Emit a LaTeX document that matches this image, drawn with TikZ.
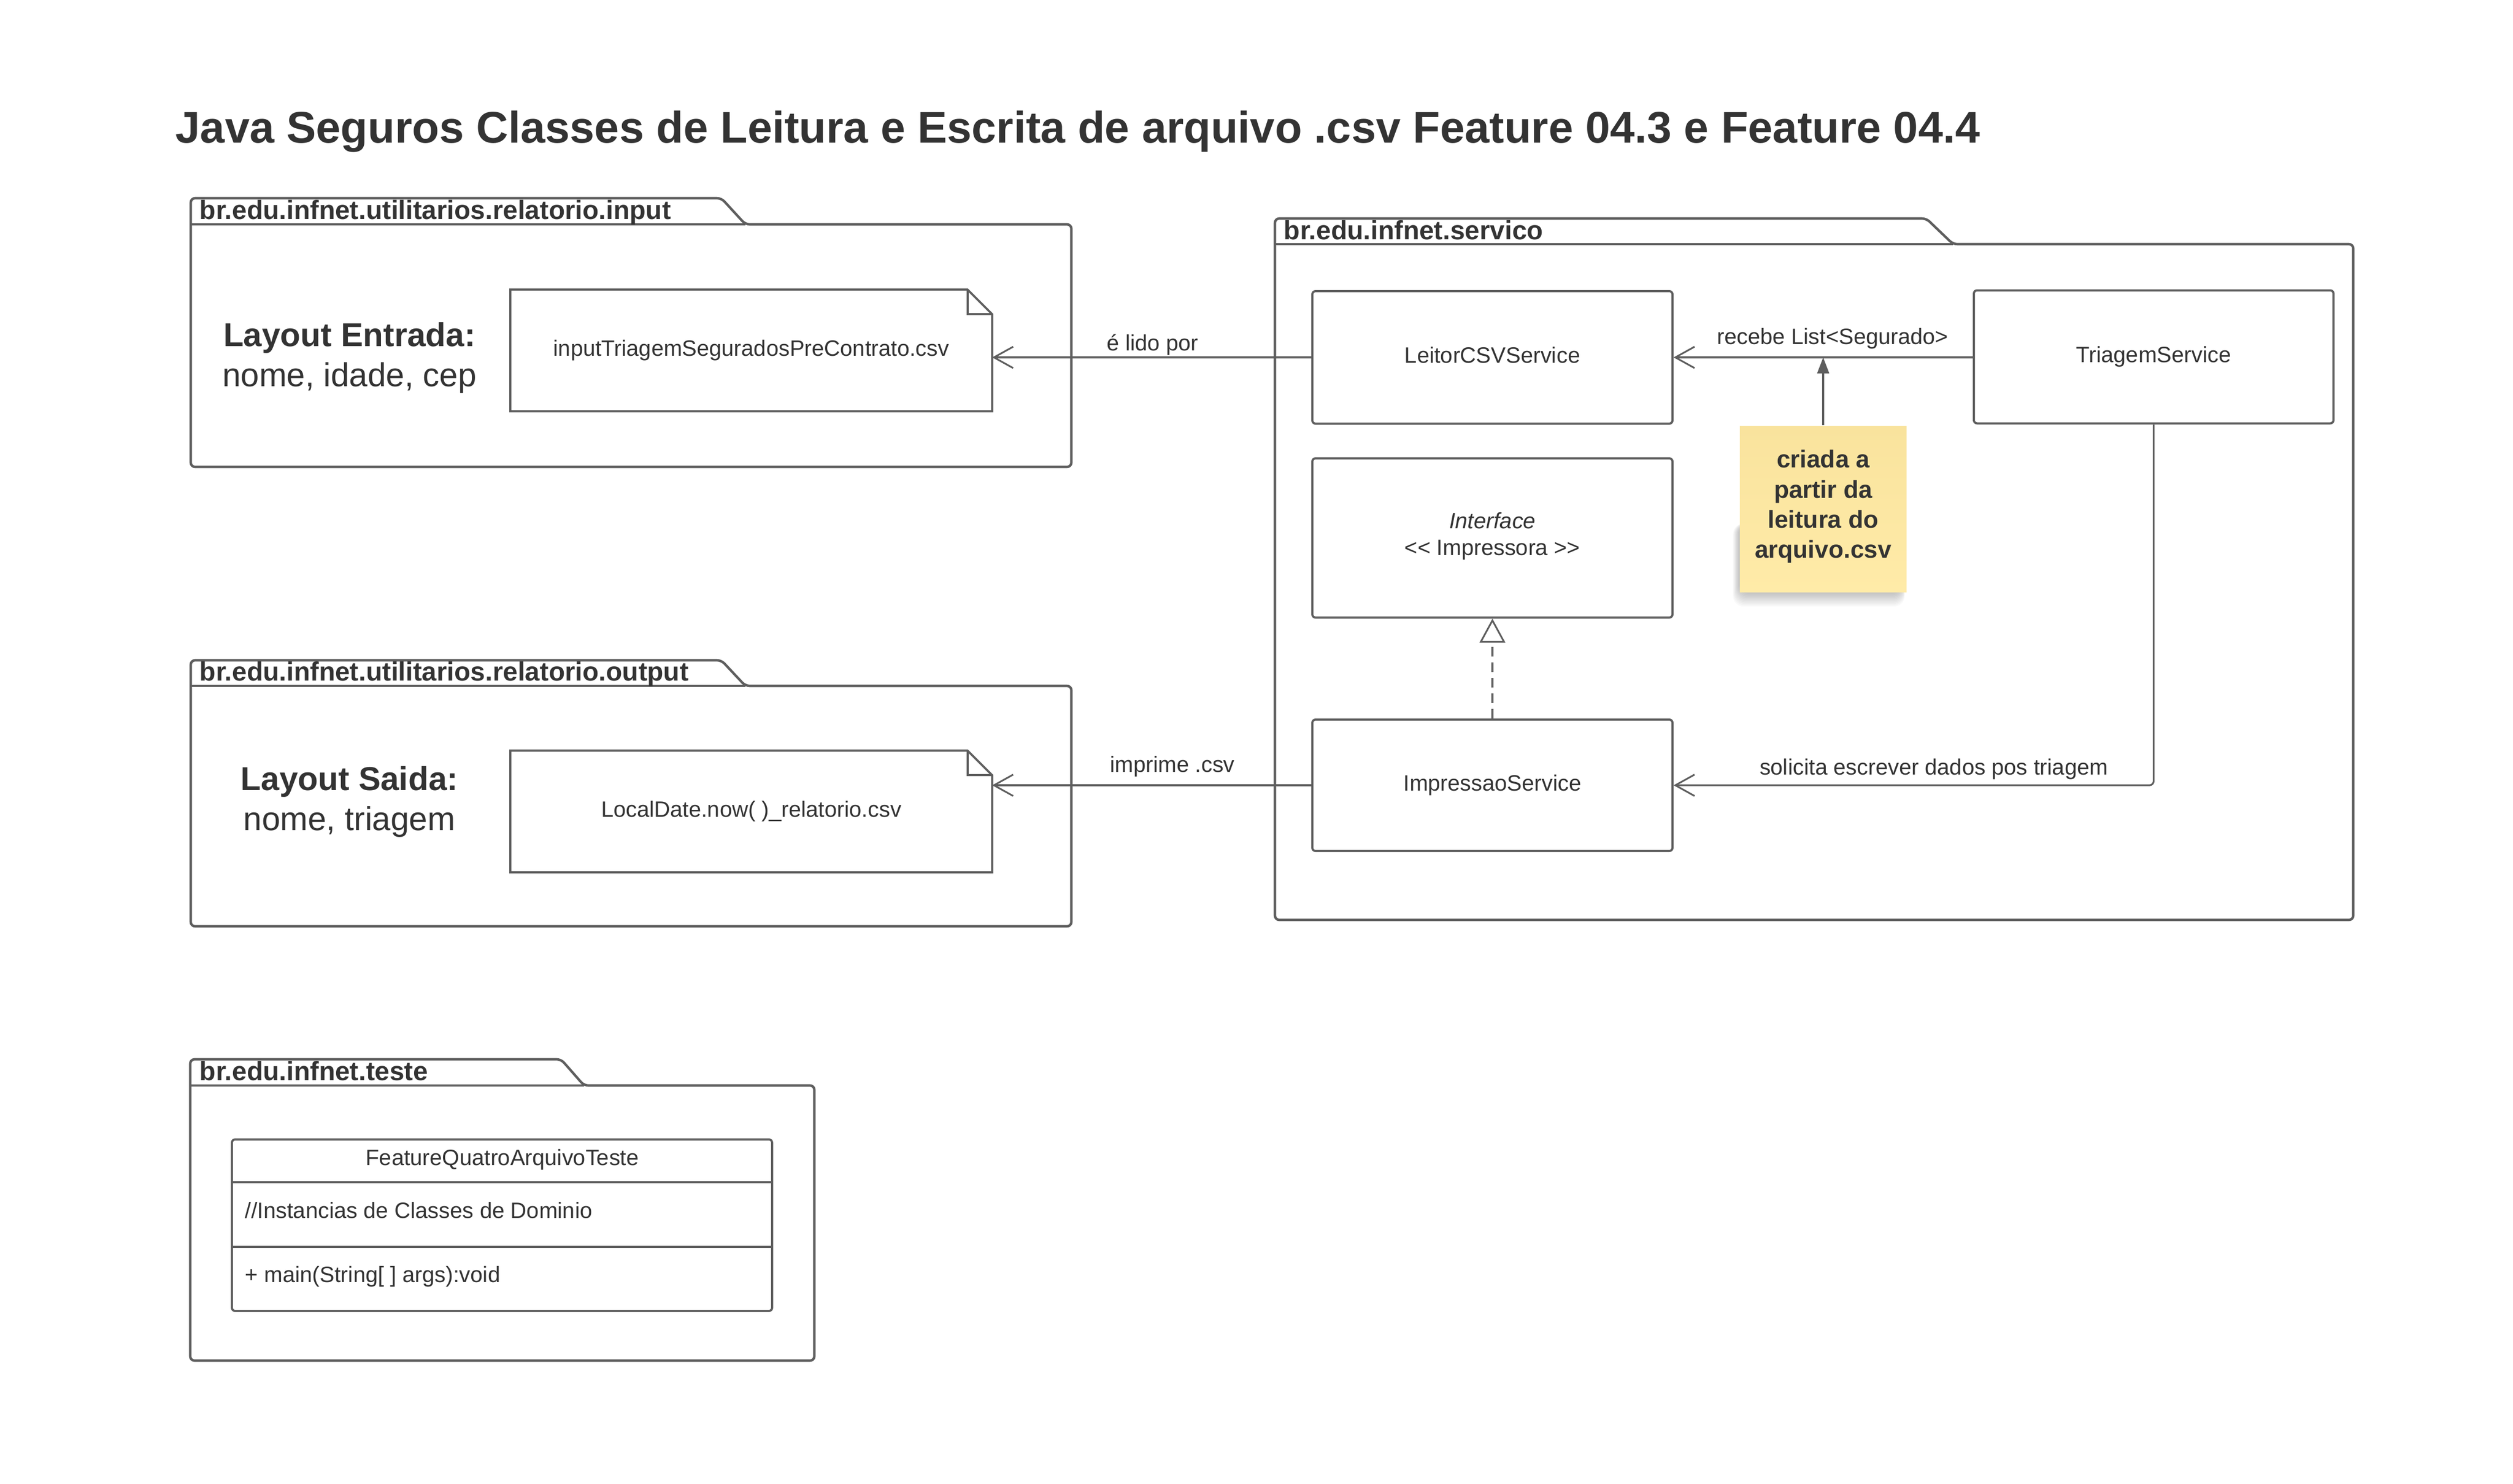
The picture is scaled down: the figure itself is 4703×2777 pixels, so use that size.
\documentclass[tikz,border=0pt]{standalone}
\usepackage{fontspec}
\setmainfont{Liberation Sans}
\usetikzlibrary{arrows.meta}
\definecolor{lc}{HTML}{5E5E5E}
\definecolor{tc}{HTML}{333333}
\definecolor{notetop}{HTML}{F9E39D}
\definecolor{notebot}{HTML}{FFEBA8}
\begin{document}
\begin{tikzpicture}[x=0.25pt,y=-0.25pt,
  pkg/.style={draw=lc,line width=1.15pt,rounded corners=2pt},
  pkglabel/.style={anchor=base west,inner sep=0pt,text=tc,font=\fontsize{12.4}{15}\selectfont\bfseries},
  box/.style={draw=lc,line width=1pt,rounded corners=1.5pt,fill=white,text=tc,
    font=\fontsize{10.4}{12.5}\selectfont,text height=0.7em,text depth=0.2em,inner sep=0pt},
  filebox/.style={draw=none,inner sep=0pt,text=tc,font=\fontsize{10.4}{12.5}\selectfont,
    text height=0.7em,text depth=0.2em},
  fileline/.style={draw=lc,line width=1pt},
  txt/.style={inner sep=0pt,text=tc,font=\fontsize{10.4}{12.5}\selectfont},
  bigtxt/.style={inner sep=0pt,text=tc,font=\fontsize{15.5}{18}\selectfont},
  notetxt/.style={inner sep=0pt,text=tc,font=\fontsize{11.5}{14}\selectfont\bfseries},
  conn/.style={draw=lc,line width=0.8pt},
  openarrow/.style={-{Straight Barb[length=9pt,width=10pt]}},
  fillarrow/.style={-{Triangle[length=7.5pt,width=5.5pt]}},
  realarrow/.style={-{Triangle[open,length=11.25pt,width=12pt,fill=white]}},
]
% canvas
\fill[white] (0,0) rectangle (4703,2777);
\useasboundingbox (0,0) rectangle (4703,2777);

% title
\node[anchor=base west,inner sep=0pt,text=tc,font=\fontsize{20.75}{24}\selectfont\bfseries] (title) at (328,267)
  {Java Seguros Classes de Leitura e Escrita de arquivo .csv Feature 04.3 e Feature 04.4};

% packages
\draw[pkg] (357,420) -- (357,371) -- (1350,371) -- (1395,420) -- (2005,420) -- (2005,874) -- (357,874) -- cycle;
\draw[pkg] (357,420) -- (1395,420);
\node[pkglabel] (pin) at (373,410) {br.edu.infnet.utilitarios.relatorio.input};

\draw[pkg] (357,1284) -- (357,1236) -- (1350,1236) -- (1395,1284) -- (2005,1284) -- (2005,1734) -- (357,1734) -- cycle;
\draw[pkg] (357,1284) -- (1395,1284);
\node[pkglabel] (pout) at (373,1274) {br.edu.infnet.utilitarios.relatorio.output};

\draw[pkg] (2386,457) -- (2386,409) -- (3605,409) -- (3655,457) -- (4404,457) -- (4404,1722) -- (2386,1722) -- cycle;
\draw[pkg] (2386,457) -- (3655,457);
\node[pkglabel] (pserv) at (2402,448) {br.edu.infnet.servico};

\draw[pkg] (356,2032) -- (356,1983) -- (1050,1983) -- (1093,2032) -- (1524,2032) -- (1524,2547) -- (356,2547) -- cycle;
\draw[pkg] (356,2032) -- (1093,2032);
\node[pkglabel] (ptest) at (373,2022) {br.edu.infnet.teste};

% layout texts
\node[bigtxt,anchor=base,font=\fontsize{15.5}{18}\selectfont\bfseries] (lin1) at (654,648) {Layout Entrada:};
\node[bigtxt,anchor=base] (lin2) at (654,723) {nome, idade, cep};
\node[bigtxt,anchor=base,font=\fontsize{15.5}{18}\selectfont\bfseries] (lout1) at (654,1479) {Layout Saida:};
\node[bigtxt,anchor=base] (lout2) at (654,1554) {nome, triagem};

% file nodes
\node[filebox,minimum width=225pt,minimum height=56.5pt] (file1) at (1406,656) {inputTriagemSeguradosPreContrato.csv};
\draw[fileline] (file1.north west) -- ([xshift=-11.5pt]file1.north east) -- ([yshift=-11.5pt]file1.north east)
  -- (file1.south east) -- (file1.south west) -- cycle;
\draw[fileline] ([xshift=-11.5pt]file1.north east) |- ([yshift=-11.5pt]file1.north east);

\node[filebox,minimum width=225pt,minimum height=56.5pt] (file2) at (1406,1519) {LocalDate.now( )\_relatorio.csv};
\draw[fileline] (file2.north west) -- ([xshift=-11.5pt]file2.north east) -- ([yshift=-11.5pt]file2.north east)
  -- (file2.south east) -- (file2.south west) -- cycle;
\draw[fileline] ([xshift=-11.5pt]file2.north east) |- ([yshift=-11.5pt]file2.north east);

% service boxes
\node[box,minimum width=168.5pt,minimum height=62pt] (leitor) at (2793,669) {LeitorCSVService};
\node[box,minimum width=168.25pt,minimum height=62.25pt] (triagem) at (4030.5,668) {TriagemService};
\node[box,minimum width=168.5pt,minimum height=74.5pt] (iface) at (2793,1007) {};
\node[txt,anchor=base,font=\fontsize{10.4}{12.5}\selectfont\itshape] (iface1) at (2793,989) {Interface};
\node[txt,anchor=base] (iface2) at (2793,1039) {<\kern0pt< Impressora >\kern0pt>};
\node[box,minimum width=168.5pt,minimum height=61.5pt] (impr) at (2793,1470) {ImpressaoService};

% note with soft shadow
\foreach \i in {0,...,9} {
  \fill[black,opacity=0.022,rounded corners=5pt] (3254-\i*1.2,980) rectangle (3560+\i*0.5,1112+\i*2.6);
}
\node[inner sep=0pt,minimum width=78pt,minimum height=77.75pt,top color=notetop,bottom color=notebot,draw=none] (note) at (3412,952.5) {};
\node[notetxt,anchor=base] (n1) at (3412,875) {criada a};
\node[notetxt,anchor=base] (n2) at (3412,932) {partir da};
\node[notetxt,anchor=base] (n3) at (3412,988) {leitura do};
\node[notetxt,anchor=base] (n4) at (3412,1044) {arquivo.csv};

% class box
\node[draw=lc,line width=1pt,rounded corners=1.5pt,inner sep=0pt,minimum width=252.75pt,minimum height=80.25pt] (cls) at (939.5,2293.5) {};
\coordinate (d1) at (434,2213);
\coordinate (d2) at (434,2334);
\draw[lc,line width=1pt] (d1) -- (d1 -| cls.east);
\draw[lc,line width=1pt] (d2) -- (d2 -| cls.east);
\node[txt,anchor=base] (clsname) at (940,2181) {FeatureQuatroArquivoTeste};
\node[txt,anchor=base west] (clsattr) at (458,2280) {//Instancias de Classes de Dominio};
\node[txt,anchor=base west] (clsop) at (458,2400) {+ main(String[ ] args):void};

% connectors
\draw[conn,openarrow] (leitor.west) -- (leitor.west -| file1.east);
\node[txt,anchor=base] (l1) at (2157,656) {é lido por};

\draw[conn,openarrow] (triagem.west |- leitor.east) -- (leitor.east);
\node[txt,anchor=base] (l2) at (3430,644) {recebe List<Segurado>};

\draw[conn,fillarrow] (note.north) -- (note.north |- leitor.east);

\draw[conn,dash pattern=on 4.5pt off 2.75pt,realarrow] (impr.north) -- (iface.south);

\draw[conn,openarrow,rounded corners=2pt] (triagem.south) |- (impr.east);
\node[txt,anchor=base] (l3) at (3619,1450) {solicita escrever dados pos triagem};

\draw[conn,openarrow] (impr.west) -- (impr.west -| file2.east);
\node[txt,anchor=base] (l4) at (2194,1445) {imprime .csv};
\end{tikzpicture}
\end{document}
